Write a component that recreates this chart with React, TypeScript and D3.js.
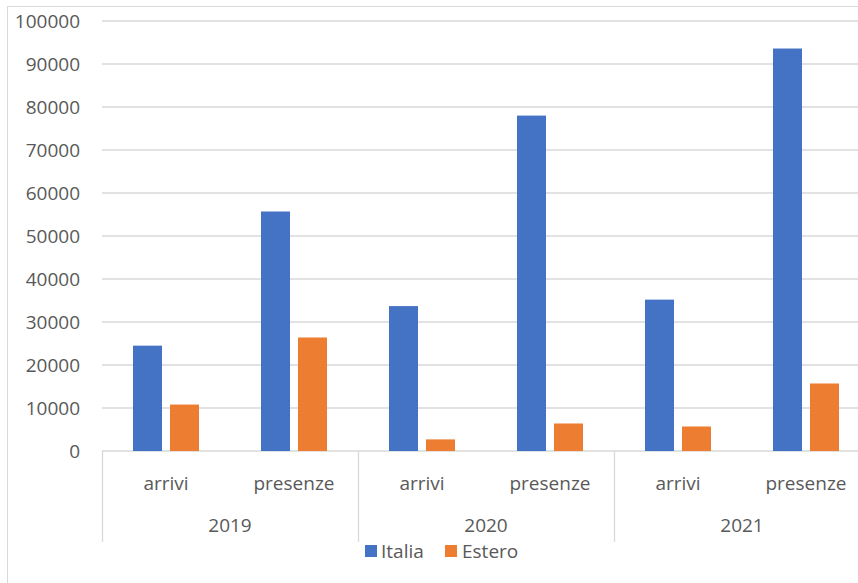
import React from "react";
import * as d3 from "d3";

const years = ["2019", "2020", "2021"];
const measures = ["arrivi", "presenze"];
const seriesNames = ["Italia", "Estero"];
const italia = [24500, 55700, 33700, 78000, 35200, 93600];
const estero = [10800, 26400, 2700, 6400, 5700, 15700];
const yTicks = [0, 10000, 20000, 30000, 40000, 50000, 60000, 70000, 80000, 90000, 100000];

const colors: Record<string, string> = { Italia: "#4472C4", Estero: "#ED7D31" };
const W = 858;
const H = 583;
const FONT = "'Open Sans', sans-serif";
const TEXT = "#595959";
const GRID = "#d9d9d9";

export default function App() {
  const left = 102;
  const right = 870;
  const top = 21;
  const bottom = 451;

  const cats = years.flatMap((yr) => measures.map((m) => `${yr}|${m}`));
  const x0 = d3.scaleBand<string>().domain(cats).range([left, right]).padding(0);
  const x1 = d3
    .scaleBand<string>()
    .domain(seriesNames)
    .range([0, x0.bandwidth()])
    .paddingInner(0.216)
    .paddingOuter(0.838);
  const xYear = d3.scaleBand<string>().domain(years).range([left, right]).padding(0);
  const y = d3.scaleLinear().domain([0, 100000]).range([bottom, top]);

  const values: Record<string, number[]> = { Italia: italia, Estero: estero };

  return (
    <svg
      width={W}
      height={H}
      style={{ position: "absolute", left: 0, top: 0, background: "#fff" }}
      fontFamily={FONT}
    >
      <rect x={7.5} y={6.5} width={W + 20} height={H + 20} fill="#fff" stroke={GRID} strokeWidth={1} />
      {yTicks.map((t) => (
        <g key={t}>
          <line x1={left} x2={right} y1={y(t)} y2={y(t)} stroke={GRID} strokeWidth={1.3} />
          <text x={80} y={y(t)} dy="0.35em" textAnchor="end" fontSize={19} fill={TEXT}>
            {t}
          </text>
        </g>
      ))}
      {seriesNames.map((s) =>
        cats.map((c, i) => (
          <rect
            key={s + c}
            x={(x0(c) ?? 0) + (x1(s) ?? 0)}
            y={y(values[s][i])}
            width={x1.bandwidth()}
            height={bottom - y(values[s][i])}
            fill={colors[s]}
          />
        ))
      )}
      {[...years.map((yr) => xYear(yr) ?? 0), right].map((xv, i) => (
        <line key={i} x1={xv + 0.5} x2={xv + 0.5} y1={bottom} y2={542} stroke={GRID} strokeWidth={1.3} />
      ))}
      {cats.map((c) => (
        <text
          key={c}
          x={(x0(c) ?? 0) + x0.bandwidth() / 2}
          y={483}
          dy="0.35em"
          textAnchor="middle"
          fontSize={19}
          fill={TEXT}
        >
          {c.split("|")[1]}
        </text>
      ))}
      {years.map((yr) => (
        <text
          key={yr}
          x={(xYear(yr) ?? 0) + xYear.bandwidth() / 2}
          y={525}
          dy="0.35em"
          textAnchor="middle"
          fontSize={19}
          fill={TEXT}
        >
          {yr}
        </text>
      ))}
      <g>
        <rect x={365} y={545} width={12} height={12} fill={colors.Italia} />
        <text x={381} y={551} dy="0.35em" fontSize={19} fill={TEXT}>
          Italia
        </text>
        <rect x={445} y={545} width={12} height={12} fill={colors.Estero} />
        <text x={462} y={551} dy="0.35em" fontSize={19} fill={TEXT}>
          Estero
        </text>
      </g>
    </svg>
  );
}
